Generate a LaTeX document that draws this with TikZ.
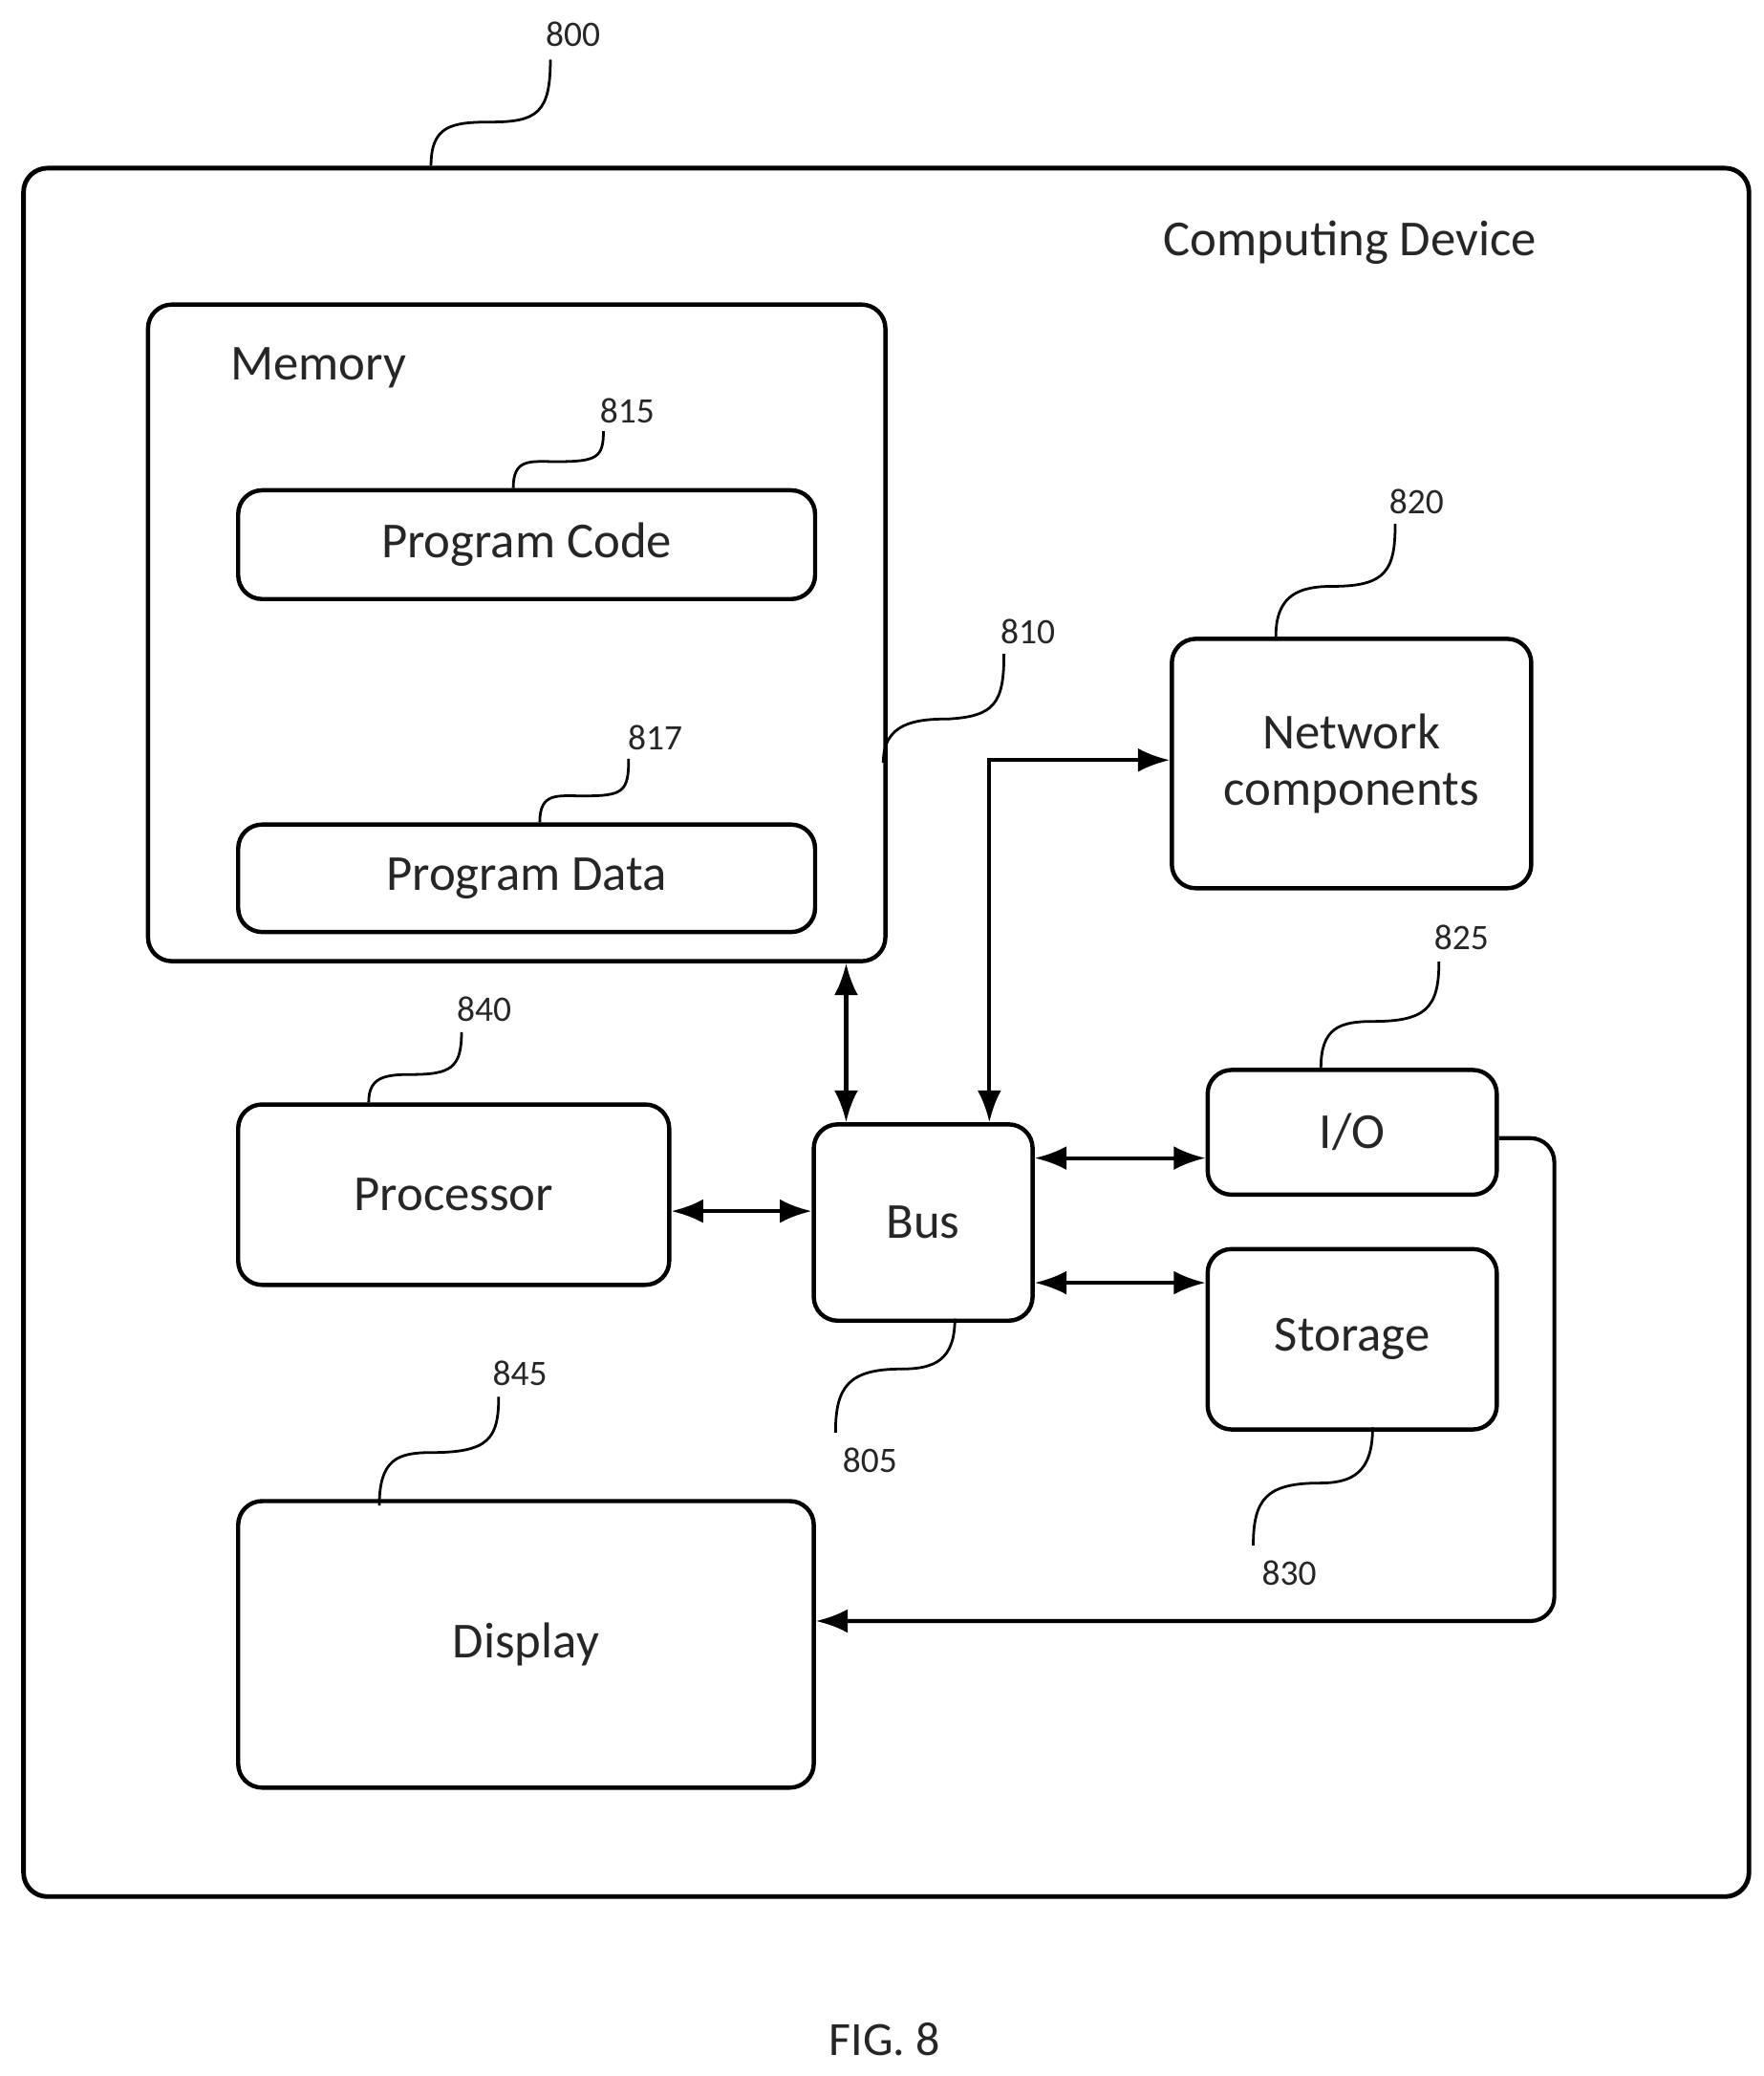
\documentclass[tikz,border=0pt]{standalone}
\usepackage{fontspec}
\setmainfont{Carlito}
\usetikzlibrary{arrows.meta}
\begin{document}
\begin{tikzpicture}[x=1pt,y=1pt,yscale=-1,
  box/.style={draw,line width=3.2pt,rounded corners=18pt,anchor=north west,inner sep=0pt},
  lbl/.style={font=\fontsize{38}{44}\selectfont,text=black!85},
  num/.style={font=\fontsize{27}{31}\selectfont,text=black!85},
  lead/.style={line width=2pt},
  conn/.style={line width=3pt,{Latex[length=24,width=18]}-{Latex[length=24,width=18]}}]
\useasboundingbox (0,0) rectangle (1330,1565);

% outer device
\node[box,line width=3.5pt,minimum width=1301,minimum height=1303] (dev) at (16,125) {};
\node[lbl] (devtxt) at (1018,183) {Computing Device};
\node[num] (n800) at (432,26) {800};
\draw[lead] (325,125) .. controls (325,95) and (340,92) .. (370,92) .. controls (405,92) and (415,85) .. (415,45);

% memory
\node[box,minimum width=556,minimum height=495] (mem) at (110,228) {};
\node[lbl] (memtxt) at (240,277) {Memory};
\node[box,minimum width=435,minimum height=82] (code) at (178,368) {};
\node[lbl] at (code.center) {Program Code};
\node[box,minimum width=435,minimum height=81] (data) at (178,620) {};
\node[lbl] at (data.center) {Program Data};
\node[num] (n815) at (473,310) {815};
\draw[lead] (387,368) .. controls (387,345) and (400,348) .. (420,348) .. controls (450,348) and (455,345) .. (455,325);
\node[num] (n817) at (494,556) {817};
\draw[lead] (407,620) .. controls (407,597) and (420,600) .. (440,600) .. controls (470,600) and (474,597) .. (474,572);
\node[num] (n810) at (775,476) {810};
\draw[lead] (666,575) .. controls (666,545) and (690,542) .. (715,542) .. controls (750,540) and (757,530) .. (757,493);

% network
\node[box,minimum width=271,minimum height=188] (net) at (882,480) {};
\node[lbl,align=center] at (net.center) {Network\\[-2pt]components};
\node[num] (n820) at (1068,378) {820};
\draw[lead] (962,480) .. controls (962,448) and (980,442) .. (1005,442) .. controls (1045,442) and (1052,430) .. (1052,395);

% I/O
\node[box,minimum width=218,minimum height=94] (io) at (909,805) {};
\node[lbl] at (io.center) {I/O};
\node[num] (n825) at (1102,707) {825};
\draw[lead] (996,805) .. controls (996,775) and (1010,770) .. (1035,770) .. controls (1075,770) and (1085,760) .. (1085,725);

% storage
\node[box,minimum width=218,minimum height=136] (stor) at (909,940) {};
\node[lbl] at (stor.center) {Storage};
\node[num] (n830) at (972,1186) {830};
\draw[lead] (1035,1076) .. controls (1035,1110) and (1020,1118) .. (995,1118) .. controls (955,1118) and (945,1130) .. (945,1165);

% bus
\node[box,minimum width=165,minimum height=148] (bus) at (612,846) {};
\node[lbl] at (bus.center) {Bus};
\node[num] (n805) at (656,1101) {805};
\draw[lead] (720,994) .. controls (720,1025) and (705,1032) .. (680,1032) .. controls (640,1032) and (630,1045) .. (630,1080);

% processor
\node[box,minimum width=325,minimum height=136] (proc) at (178,831) {};
\node[lbl] at (proc.center) {Processor};
\node[num] (n840) at (365,761) {840};
\draw[lead] (278,831) .. controls (278,812) and (290,810) .. (310,810) .. controls (340,810) and (348,805) .. (348,778);

% display
\node[box,minimum width=434,minimum height=216] (disp) at (178,1130) {};
\node[lbl] at (disp.center) {Display};
\node[num] (n845) at (392,1035) {845};
\draw[lead] (286,1135) .. controls (286,1100) and (300,1095) .. (325,1095) .. controls (368,1095) and (376,1085) .. (376,1053);

% connectors
\draw[conn] (mem.south west -| 638,0) -- (bus.north west -| 638,0);
\draw[conn] (bus.north west -| 746,0) |- ([yshift=93]net.north west);
\draw[conn] (proc.east |- 0,913) -- (bus.west |- 0,913);
\draw[conn] (bus.east |- 0,873) -- (io.west |- 0,873);
\draw[conn] (bus.east |- 0,967) -- (stor.west |- 0,967);
\draw[line width=3pt,-{Latex[length=24,width=18]},rounded corners=18pt] (io.east |- 0,858) -- (1172,858) -- (1172,1222) -- (disp.east |- 0,1222);

\node[lbl,font=\fontsize{36}{42}\selectfont] (fig) at (667,1537) {FIG. 8};
\end{tikzpicture}
\end{document}
